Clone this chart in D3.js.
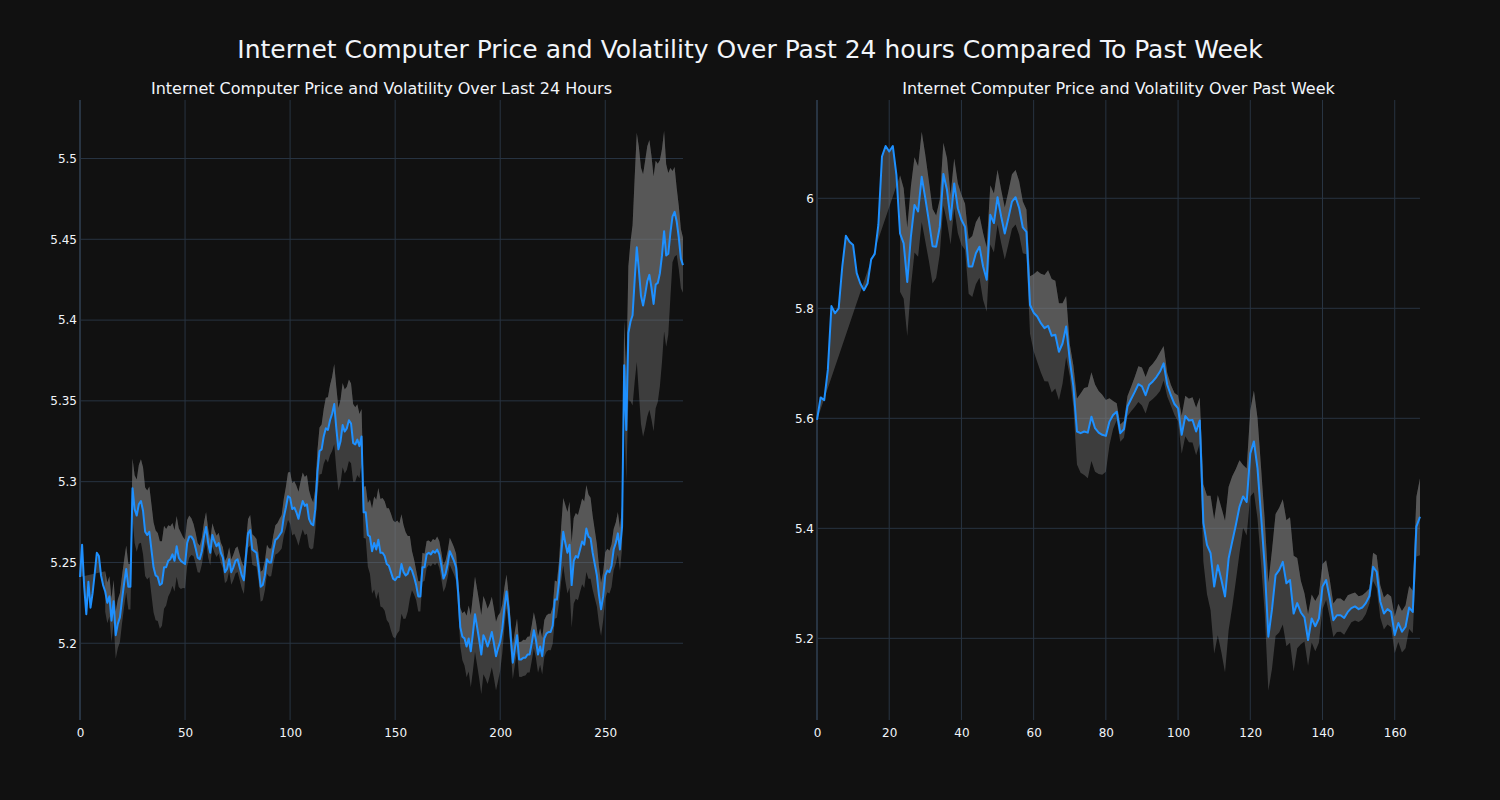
<!DOCTYPE html>
<html><head><meta charset="utf-8">
<script src="https://cdn.jsdelivr.net/npm/d3@7"></script>
<style>body{margin:0;background:#111111;}svg{display:block;}</style>
</head><body>
<svg id="chart" width="1500" height="800"></svg>
<script>
const mainTitle = "Internet Computer Price and Volatility Over Past 24 hours Compared To Past Week";
const dayTitle = "Internet Computer Price and Volatility Over Last 24 Hours";
const weekTitle = "Internet Computer Price and Volatility Over Past Week";

// price every 5 minutes over the last 24 hours (index 0..287)
const dayPrices = [
5.241,5.261,5.235,5.218,5.238,5.222,5.231,5.243,5.256,5.254,
5.242,5.236,5.232,5.225,5.229,5.214,5.226,5.205,5.212,5.216,
5.227,5.237,5.246,5.235,5.235,5.296,5.283,5.279,5.286,5.288,
5.282,5.269,5.267,5.269,5.258,5.247,5.242,5.241,5.236,5.237,
5.247,5.247,5.251,5.252,5.255,5.251,5.260,5.253,5.251,5.250,
5.249,5.262,5.266,5.266,5.264,5.259,5.253,5.252,5.257,5.266,
5.272,5.262,5.256,5.267,5.263,5.260,5.262,5.256,5.253,5.244,
5.246,5.252,5.244,5.247,5.251,5.252,5.247,5.242,5.239,5.254,
5.268,5.270,5.258,5.257,5.256,5.247,5.235,5.236,5.242,5.252,
5.250,5.250,5.258,5.264,5.265,5.267,5.269,5.278,5.284,5.291,
5.290,5.283,5.284,5.281,5.277,5.283,5.288,5.285,5.286,5.277,
5.274,5.273,5.283,5.306,5.319,5.320,5.328,5.333,5.332,5.338,
5.342,5.348,5.333,5.320,5.325,5.335,5.331,5.333,5.338,5.336,
5.324,5.323,5.326,5.322,5.328,5.281,5.281,5.267,5.266,5.257,
5.262,5.258,5.264,5.256,5.256,5.254,5.249,5.248,5.244,5.240,
5.239,5.241,5.241,5.249,5.244,5.242,5.243,5.247,5.245,5.241,
5.236,5.229,5.229,5.247,5.247,5.255,5.256,5.255,5.257,5.256,
5.258,5.255,5.248,5.240,5.243,5.249,5.257,5.254,5.251,5.247,
5.231,5.210,5.204,5.203,5.198,5.203,5.195,5.206,5.218,5.210,
5.202,5.193,5.205,5.202,5.198,5.202,5.207,5.200,5.192,5.197,
5.201,5.209,5.222,5.232,5.221,5.204,5.188,5.197,5.205,5.190,
5.190,5.191,5.191,5.193,5.193,5.200,5.208,5.202,5.193,5.198,
5.192,5.203,5.206,5.207,5.207,5.211,5.227,5.227,5.238,5.255,
5.269,5.262,5.256,5.261,5.236,5.251,5.254,5.253,5.258,5.263,
5.261,5.271,5.266,5.265,5.256,5.249,5.242,5.230,5.221,5.229,
5.242,5.245,5.244,5.248,5.258,5.262,5.268,5.258,5.272,5.372,
5.332,5.392,5.399,5.403,5.425,5.445,5.431,5.415,5.409,5.416,
5.424,5.428,5.420,5.410,5.422,5.423,5.429,5.440,5.455,5.440,
5.441,5.454,5.464,5.467,5.461,5.451,5.438,5.434
];

// hourly price over the past week (index 0..167)
const weekPrices = [
5.597,5.638,5.633,5.688,5.804,5.791,5.800,5.876,5.932,5.921,
5.915,5.864,5.845,5.833,5.845,5.889,5.899,5.952,6.076,6.095,
6.085,6.095,6.042,5.936,5.918,5.848,5.930,5.988,5.976,6.039,
6.000,5.958,5.913,5.912,5.948,6.044,6.015,5.961,6.027,5.982,
5.961,5.948,5.876,5.876,5.900,5.912,5.876,5.852,5.970,5.955,
6.002,5.967,5.936,5.964,5.994,6.002,5.982,5.947,5.939,5.806,
5.792,5.785,5.773,5.764,5.768,5.750,5.752,5.721,5.736,5.767,
5.706,5.658,5.576,5.573,5.576,5.574,5.603,5.582,5.574,5.570,
5.568,5.594,5.606,5.612,5.573,5.580,5.622,5.635,5.648,5.662,
5.658,5.642,5.661,5.667,5.675,5.685,5.700,5.661,5.642,5.626,
5.618,5.570,5.604,5.596,5.597,5.576,5.596,5.410,5.370,5.355,
5.294,5.333,5.306,5.276,5.345,5.376,5.406,5.439,5.458,5.448,
5.536,5.558,5.509,5.421,5.330,5.203,5.252,5.315,5.324,5.339,
5.300,5.306,5.245,5.264,5.247,5.238,5.197,5.236,5.222,5.236,
5.294,5.306,5.273,5.233,5.242,5.242,5.237,5.248,5.255,5.258,
5.253,5.256,5.264,5.277,5.330,5.321,5.267,5.245,5.253,5.248,
5.206,5.228,5.212,5.221,5.256,5.248,5.403,5.421
];

const dayXTicks = [0, 50, 100, 150, 200, 250];
const dayYTicks = [5.2, 5.25, 5.3, 5.35, 5.4, 5.45, 5.5];
const weekXTicks = [0, 20, 40, 60, 80, 100, 120, 140, 160];
const weekYTicks = [5.2, 5.4, 5.6, 5.8, 6];

// volatility = rolling standard deviation of the price (window, first index shown)
const dayWindow = 24, dayBandStart = 12;
const weekWindow = 12, weekBandStart = 23;

const dayYRange = [5.1525, 5.5362];
const weekYRange = [5.0515, 6.1787];

const svg = d3.select("#chart");
const W = 1500, H = 800;
const margin = {top: 100, bottom: 80, left: 80, right: 80};
const plotW = W - margin.left - margin.right;
const FONT = "'DejaVu Sans', sans-serif";
const TEXT = "#f2f5fa";
const GRID = "#283442";
const LINE = "#1e90ff";
const FILL = "rgba(128,128,128,0.4)";

svg.append("rect").attr("width", W).attr("height", H).attr("fill", "#111111");

svg.append("text").attr("x", W / 2).attr("y", 58).attr("text-anchor", "middle")
  .attr("font-family", FONT).attr("font-size", 25).attr("fill", TEXT).text(mainTitle);

function rollingStd(values, win, start) {
  return values.map((v, i) => {
    if (i < start) return null;
    return d3.deviation(values.slice(Math.max(0, i - win + 1), i + 1));
  });
}

function panel(opts) {
  const x0 = margin.left + opts.domain[0] * plotW;
  const x1 = margin.left + opts.domain[1] * plotW;
  const y0 = margin.top, y1 = H - margin.bottom;
  const n = opts.prices.length;
  const x = d3.scaleLinear().domain([0, n - 1]).range([x0, x1]);
  const y = d3.scaleLinear().domain(opts.yRange).range([y1, y0]);
  const g = svg.append("g");

  // grid
  g.append("g").selectAll("line").data(opts.yTicks).join("line")
    .attr("x1", x0).attr("x2", x1).attr("y1", d => y(d)).attr("y2", d => y(d))
    .attr("stroke", GRID).attr("stroke-width", 1);
  g.append("g").selectAll("line").data(opts.xTicks.filter(d => d !== 0)).join("line")
    .attr("x1", d => x(d)).attr("x2", d => x(d)).attr("y1", y0).attr("y2", y1)
    .attr("stroke", GRID).attr("stroke-width", 1);
  // zero line
  g.append("line").attr("x1", x(0)).attr("x2", x(0)).attr("y1", y0).attr("y2", y1)
    .attr("stroke", GRID).attr("stroke-width", 2);

  // tick labels
  const yAxis = d3.axisLeft(y).tickValues(opts.yTicks).tickSize(0).tickPadding(3)
    .tickFormat(d => String(+d.toFixed(2)));
  const ya = g.append("g").attr("transform", `translate(${x0},0)`).call(yAxis);
  ya.select(".domain").remove();
  ya.selectAll("text").attr("font-family", FONT).attr("font-size", 12).attr("fill", TEXT);

  const xAxis = d3.axisBottom(x).tickValues(opts.xTicks).tickSize(0).tickPadding(8)
    .tickFormat(d3.format("d"));
  const xa = g.append("g").attr("transform", `translate(0,${y1})`).call(xAxis);
  xa.select(".domain").remove();
  xa.selectAll("text").attr("font-family", FONT).attr("font-size", 12).attr("fill", TEXT);

  // volatility band
  const sd = rollingStd(opts.prices, opts.win, opts.start);
  const idx = d3.range(n).filter(i => sd[i] !== null);
  const upper = idx.map(i => [x(i), y(opts.prices[i] + sd[i])]);
  const lower = idx.map(i => [x(i), y(opts.prices[i] - sd[i])]);
  const pricePts = opts.prices.map((v, i) => [x(i), y(v)]);
  const lineGen = d3.line();
  g.append("path").attr("d", lineGen(upper.concat(pricePts.slice().reverse())) + "Z")
    .attr("fill", FILL).attr("stroke", "none");
  g.append("path").attr("d", lineGen(lower.concat(upper.slice().reverse())) + "Z")
    .attr("fill", FILL).attr("stroke", "none");

  // price line
  g.append("path").attr("d", lineGen(pricePts)).attr("fill", "none")
    .attr("stroke", LINE).attr("stroke-width", 2).attr("stroke-linejoin", "round");

  // subplot title
  svg.append("text").attr("x", (x0 + x1) / 2).attr("y", 94).attr("text-anchor", "middle")
    .attr("font-family", FONT).attr("font-size", 16).attr("fill", TEXT).text(opts.title);
}

panel({domain: [0, 0.45], prices: dayPrices, xTicks: dayXTicks, yTicks: dayYTicks,
  yRange: dayYRange, win: dayWindow, start: dayBandStart, title: dayTitle});
panel({domain: [0.55, 1], prices: weekPrices, xTicks: weekXTicks, yTicks: weekYTicks,
  yRange: weekYRange, win: weekWindow, start: weekBandStart, title: weekTitle});
</script>
</body></html>
